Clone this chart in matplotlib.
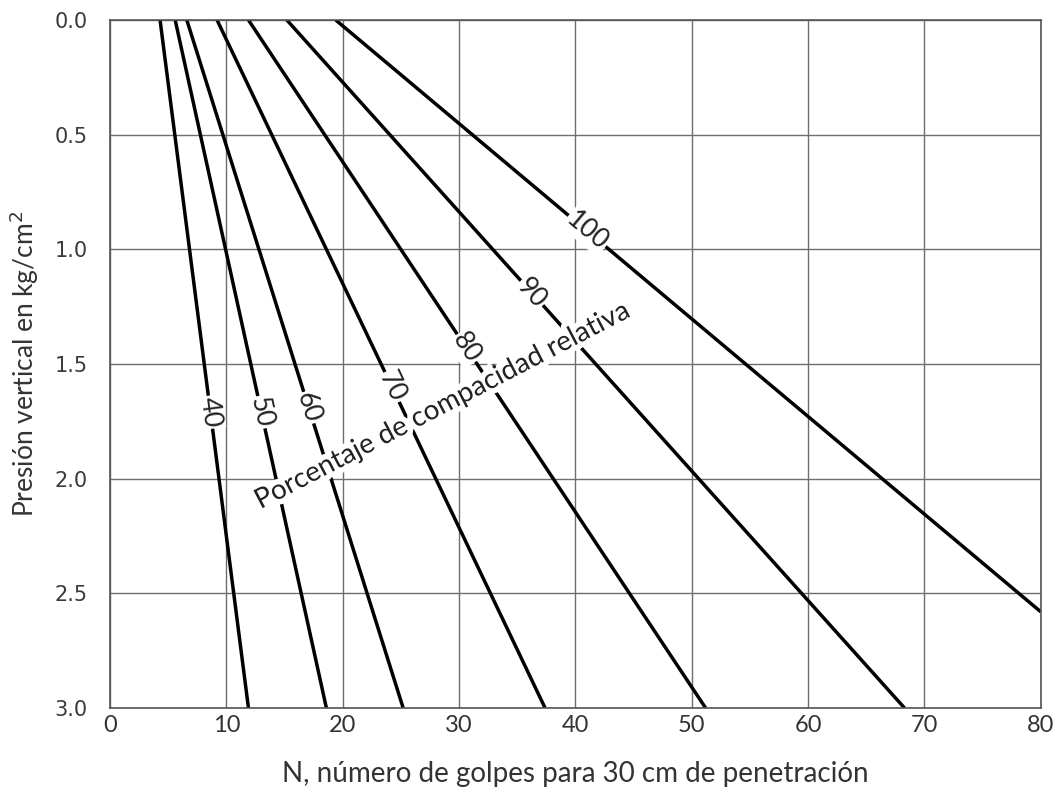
import numpy as np
import matplotlib
matplotlib.use("Agg")
import matplotlib.pyplot as plt
import matplotlib.patheffects as pe

# Data: each compaction line from (N_top, p=0) to (N_bottom, p=3.0) (100% ends at right edge)
labels = ["40", "50", "60", "70", "80", "90", "100"]
n_top = [4.3, 5.6, 6.6, 9.2, 11.9, 15.2, 19.4]
n_end = [11.9, 18.6, 25.2, 37.4, 51.2, 68.3, 80.0]
p_end = [3.0, 3.0, 3.0, 3.0, 3.0, 3.0, 2.58]
label_p = [1.71, 1.71, 1.69, 1.60, 1.43, 1.19, 0.92]

x_ticks = [0, 10, 20, 30, 40, 50, 60, 70, 80]
y_ticks = [0.0, 0.5, 1.0, 1.5, 2.0, 2.5, 3.0]

plt.rcParams['font.family'] = ['Lato', 'DejaVu Sans']
fig = plt.figure(figsize=(10.6, 8.01), dpi=100)
ax = fig.add_axes([0.1038, 0.116, 0.878, 0.859])
ax.set_xlim(0, 80)
ax.set_ylim(3.0, 0.0)
ax.set_xticks(x_ticks)
ax.set_yticks(y_ticks)
ax.set_yticklabels([f"{v:.1f}" for v in y_ticks], fontfamily='DejaVu Sans',
                   fontsize=15, color='#3a3a3a')
ax.set_xticklabels([str(v) for v in x_ticks], fontsize=17, color='#333333')
ax.tick_params(axis='y', length=0, pad=16)
ax.tick_params(axis='x', length=0, pad=5)
ax.grid(True, color='#6e6e6e', linewidth=1.0)
ax.set_axisbelow(True)
for s in ax.spines.values():
    s.set_color('#555555')
    s.set_linewidth(1.2)

fig.canvas.draw()
for lab, nt, ne, pend, lp in zip(labels, n_top, n_end, p_end, label_p):
    ax.plot([nt, ne], [0.0, pend], color='black', linewidth=2.5, zorder=2,
            solid_capstyle='butt')
    lx = nt + (ne - nt) * lp / pend
    p1 = ax.transData.transform((nt, 0.0))
    p2 = ax.transData.transform((ne, pend))
    ang = np.degrees(np.arctan2(p2[1] - p1[1], p2[0] - p1[0]))
    ax.text(lx, lp, lab, rotation=ang, rotation_mode='anchor', ha='center', va='center',
            fontsize=19, color='#222222', zorder=3,
            bbox=dict(facecolor='white', edgecolor='none', pad=1.0))

ax.text(28.6, 1.68, "Porcentaje de compacidad relativa", rotation=27.5,
        rotation_mode='anchor', ha='center', va='center', fontsize=20, color='#222222',
        zorder=3, path_effects=[pe.withStroke(linewidth=8, foreground='white')])

ax.set_xlabel("N, número de golpes para 30 cm de penetración", fontsize=20,
              color='#333333', labelpad=18)
ax.set_ylabel("Presión vertical en kg/cm$^2$", fontsize=19, color='#333333', labelpad=10)

fig.savefig("out.png", dpi=100, facecolor='white')
